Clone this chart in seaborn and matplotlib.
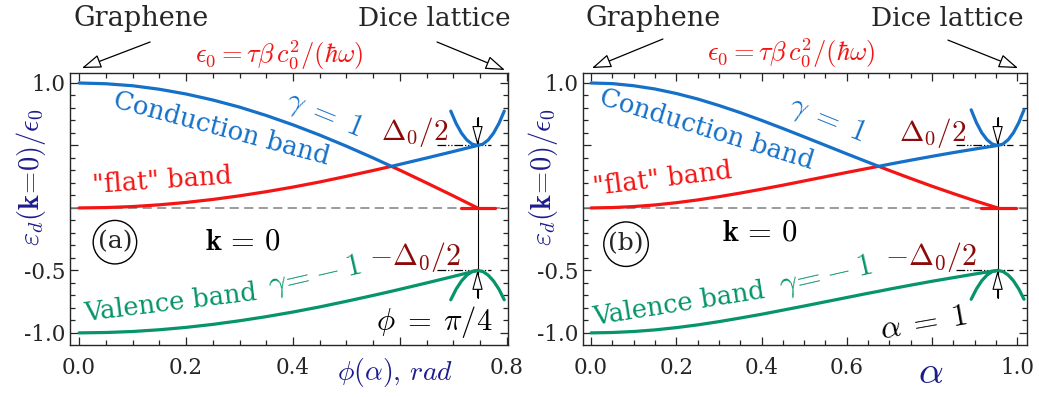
import numpy as np
import pandas as pd
import matplotlib
matplotlib.use("Agg")
import matplotlib.pyplot as plt
from matplotlib.ticker import MultipleLocator
import seaborn as sns

# ---------------- data ----------------
# panel (a): x = phi (plot scale)
x_a = [0.00, 0.05, 0.10, 0.15, 0.20, 0.25, 0.30, 0.35, 0.40, 0.45, 0.50, 0.55, 0.584, 0.60, 0.65, 0.70, 0.745]
cond_a = [1.000, 0.994, 0.978, 0.950, 0.912, 0.864, 0.807, 0.740, 0.665, 0.583, 0.494, 0.400, 0.333, 0.349, 0.400, 0.452, 0.500]
flat_a = [0.000, 0.003, 0.011, 0.025, 0.044, 0.068, 0.097, 0.130, 0.167, 0.208, 0.253, 0.300, 0.333, 0.302, 0.200, 0.096, 0.000]
val_a = [-1.000, -0.997, -0.989, -0.975, -0.956, -0.932, -0.903, -0.870, -0.833, -0.792, -0.747, -0.700, -0.667, -0.651, -0.600, -0.548, -0.500]
flatseg_a_x = [0.715, 0.778]
flatseg_a_y = [0.0, 0.0]
par_a_x = [0.695, 0.705, 0.715, 0.725, 0.735, 0.745, 0.755, 0.765, 0.775, 0.785, 0.795]
par_up_a = [0.775, 0.676, 0.599, 0.544, 0.511, 0.500, 0.511, 0.544, 0.599, 0.676, 0.775]
par_dn_a = [-0.735, -0.650, -0.585, -0.538, -0.509, -0.500, -0.509, -0.538, -0.585, -0.650, -0.735]
mark_a = 0.745

# panel (b): x = alpha (plot scale)
x_b = [0.00, 0.05, 0.10, 0.15, 0.20, 0.25, 0.30, 0.35, 0.40, 0.45, 0.50, 0.55, 0.60, 0.65, 0.675, 0.70, 0.75, 0.80, 0.85, 0.90, 0.954]
cond_b = [1.000, 0.995, 0.978, 0.952, 0.916, 0.872, 0.820, 0.763, 0.701, 0.636, 0.569, 0.501, 0.433, 0.366, 0.333, 0.350, 0.382, 0.413, 0.443, 0.471, 0.500]
flat_b = [0.000, 0.003, 0.011, 0.024, 0.042, 0.064, 0.090, 0.119, 0.150, 0.182, 0.216, 0.250, 0.284, 0.317, 0.333, 0.300, 0.236, 0.174, 0.115, 0.058, 0.000]
val_b = [-1.000, -0.997, -0.989, -0.976, -0.958, -0.936, -0.910, -0.881, -0.851, -0.818, -0.785, -0.751, -0.717, -0.683, -0.667, -0.650, -0.618, -0.587, -0.558, -0.529, -0.500]
flatseg_b_x = [0.916, 0.998]
flatseg_b_y = [0.0, 0.0]
par_b_x = [0.892, 0.9044, 0.9168, 0.9292, 0.9416, 0.954, 0.9664, 0.9788, 0.9912, 1.0036, 1.016]
par_up_b = [0.785, 0.682, 0.602, 0.546, 0.511, 0.500, 0.511, 0.546, 0.602, 0.682, 0.785]
par_dn_b = [-0.731, -0.648, -0.583, -0.537, -0.509, -0.500, -0.509, -0.537, -0.583, -0.648, -0.731]
mark_b = 0.954

xticks_a = [0.0, 0.2, 0.4, 0.6, 0.8]
xticklabels_a = ["0.0", "0.2", "0.4", "", "0.8"]
xticks_b = [0.0, 0.2, 0.4, 0.6, 0.8, 1.0]
xticklabels_b = ["0.0", "0.2", "0.4", "0.6", "", "1.0"]
yticks = [-1.0, -0.5, 0.0, 0.5, 1.0]
yticklabels = ["-1.0", "-0.5", "", "", "1.0"]

# ---------------- style ----------------
sns.set_style("ticks")
plt.rcParams["font.family"] = ["DejaVu Serif"]
plt.rcParams["mathtext.fontset"] = "cm"

BLUE = "#1570c8"
RED = "#f41414"
GREEN = "#06946a"
DRED = "#8b0a0a"
NAVY = "#1c1c8c"

fig = plt.figure(figsize=(10.39, 3.97), dpi=100)
ax_a = fig.add_axes([70/1039, 1-345/397, 438/1039, 272/397])
ax_b = fig.add_axes([583/1039, 1-345/397, 444/1039, 272/397])

def draw(ax, x, cond, flat, val, fsx, fsy, px, pu, pd, mark, dd):
    sns.lineplot(x=x, y=flat, ax=ax, color=RED, lw=2.3, sort=False, zorder=3)
    sns.lineplot(x=fsx, y=fsy, ax=ax, color=RED, lw=2.3, sort=False, zorder=3)
    sns.lineplot(x=x, y=cond, ax=ax, color=BLUE, lw=2.3, sort=False, zorder=4)
    sns.lineplot(x=x, y=val, ax=ax, color=GREEN, lw=2.3, sort=False, zorder=3)
    sns.lineplot(x=px, y=pu, ax=ax, color=BLUE, lw=2.3, sort=False, zorder=3)
    sns.lineplot(x=px, y=pd, ax=ax, color=GREEN, lw=2.3, sort=False, zorder=3)
    ax.axhline(0, color="gray", lw=1.1, ls=(0, (6, 3.5)), zorder=1)
    for lev in (0.5, -0.5):
        ax.plot(dd, [lev, lev], color="black", lw=0.9, ls=(0, (7, 1.5, 1, 1.5, 1, 1.5)), zorder=2)
    ax.plot([mark, mark], [0.73, -0.72], color="black", lw=0.8, zorder=2)
    ap = dict(arrowstyle="-|>,head_length=1.1,head_width=0.3", fc="white", ec="black", lw=0.8,
              shrinkA=0, shrinkB=0, mutation_scale=11)
    ax.annotate("", xy=(mark, 0.5), xytext=(mark, 0.72), arrowprops=ap, zorder=5)
    ax.annotate("", xy=(mark, -0.5), xytext=(mark, -0.72), arrowprops=ap, zorder=5)

draw(ax_a, x_a, cond_a, flat_a, val_a, flatseg_a_x, flatseg_a_y, par_a_x, par_up_a, par_dn_a, mark_a, [0.669, 0.771])
draw(ax_b, x_b, cond_b, flat_b, val_b, flatseg_b_x, flatseg_b_y, par_b_x, par_up_b, par_dn_b, mark_b, [0.857, 0.989])

ax_a.set_xlim(-0.017, 0.802)
ax_b.set_xlim(-0.019, 1.023)
for ax, xt, xtl in ((ax_a, xticks_a, xticklabels_a), (ax_b, xticks_b, xticklabels_b)):
    ax.set_ylim(-1.097, 1.08)
    ax.set_xticks(xt)
    ax.set_xticklabels(xtl)
    ax.set_yticks(yticks)
    ax.set_yticklabels(yticklabels)
    ax.xaxis.set_minor_locator(MultipleLocator(0.05))
    ax.yaxis.set_minor_locator(MultipleLocator(0.1))
    ax.tick_params(which="both", direction="in", top=True, right=True, labelsize=15.5, width=0.9)
    ax.tick_params(which="major", length=6)
    ax.tick_params(which="minor", length=3.5)
    ax.tick_params(axis="x", pad=9)
    ax.tick_params(axis="y", pad=3)
    for s in ax.spines.values():
        s.set_linewidth(1.0)
    ax.set_xlabel("")
    ax.set_ylabel("")
    ax.text(-0.090, 0.615, r"$\varepsilon_d(\mathbf{k}\!=\!0)/\epsilon_0$", transform=ax.transAxes,
            rotation=90, ha="center", va="center", color=NAVY, fontsize=20.5)

def texts(ax, d):
    for (x, y, s, col, fs, rot) in d:
        ax.text(x, y, s, color=col, fontsize=fs, rotation=rot, ha="center", va="center",
                rotation_mode="anchor", zorder=6)

texts(ax_a, [
    (0.267, 0.635, "Conduction band", BLUE, 18.5, -15),
    (0.458, 0.75, r"$\gamma\;=\;1$", BLUE, 22, -22),
    (0.628, 0.605, r"$\Delta_0/2$", DRED, 21, 0),
    (0.155, 0.215, '"flat" band', RED, 18.5, 4),
    (0.307, -0.266, r"$\mathbf{k}\,=\,0$", "black", 22, 0),
    (0.172, -0.76, "Valence band", GREEN, 18.5, 7),
    (0.440, -0.55, r"$\gamma\!=\!-1$", GREEN, 23, 13),
    (0.628, -0.392, r"$-\Delta_0/2$", DRED, 21.5, 0),
    (0.664, -0.91, r"$\phi\;=\;\pi/4$", "black", 22, 0),
])
texts(ax_b, [
    (0.272, 0.63, "Conduction band", BLUE, 18.5, -17),
    (0.553, 0.71, r"$\gamma\;=\;1$", BLUE, 22, -22),
    (0.802, 0.60, r"$\Delta_0/2$", DRED, 21, 0),
    (0.167, 0.234, '"flat" band', RED, 18.5, 7),
    (0.396, -0.19, r"$\mathbf{k}\,=\,0$", "black", 22, 0),
    (0.206, -0.766, "Valence band", GREEN, 18.5, 9),
    (0.550, -0.55, r"$\gamma\!=\!-1$", GREEN, 23, 13),
    (0.798, -0.39, r"$-\Delta_0/2$", DRED, 21.5, 0),
    (0.780, -0.92, r"$\alpha\;=\;1$", "black", 23, 10),
])

circ = dict(boxstyle="circle,pad=0.18", fc="white", ec="black", lw=1.0)
ax_a.text(0.067, -0.274, "(a)", fontsize=18, ha="center", va="center", bbox=circ, zorder=6)
ax_b.text(0.082, -0.29, "(b)", fontsize=18, ha="center", va="center", bbox=circ, zorder=6)

ax_a.text(0.742, -0.10, r"$\phi(\alpha),\, rad$", transform=ax_a.transAxes, color=NAVY,
          fontsize=20, ha="center", va="center")
ax_b.text(0.784, -0.10, r"$\alpha$", transform=ax_b.transAxes, color=NAVY,
          fontsize=28, ha="center", va="center")

tap = dict(arrowstyle="-|>,head_length=1.0,head_width=0.35", fc="white", ec="black", lw=0.9,
           shrinkA=0, shrinkB=0, mutation_scale=12)
for ax, g, gt, gp, d, dt, dp, fx, fy in (
    (ax_a, (0.162, 1.20), (0.183, 1.114), (0.027, 1.018), (0.831, 1.20), (0.838, 1.114), (0.993, 1.011), 0.477, 1.066),
    (ax_b, (0.158, 1.20), (0.180, 1.125), (0.020, 1.018), (0.820, 1.20), (0.822, 1.121), (0.980, 1.018), 0.470, 1.074),
):
    ax.text(*g, "Graphene", transform=ax.transAxes, fontsize=19.5, ha="center", va="center")
    ax.text(*d, "Dice lattice", transform=ax.transAxes, fontsize=19, ha="center", va="center")
    ax.annotate("", xy=gp, xytext=gt, xycoords="axes fraction", textcoords="axes fraction",
                arrowprops=tap, annotation_clip=False)
    ax.annotate("", xy=dp, xytext=dt, xycoords="axes fraction", textcoords="axes fraction",
                arrowprops=tap, annotation_clip=False)
    ax.text(fx, fy, r"$\epsilon_0 = \tau\beta\, c_0^2/(\hbar\omega)$", transform=ax.transAxes,
            color=RED, fontsize=19, ha="center", va="center")

fig.savefig("out.png", dpi=100)
